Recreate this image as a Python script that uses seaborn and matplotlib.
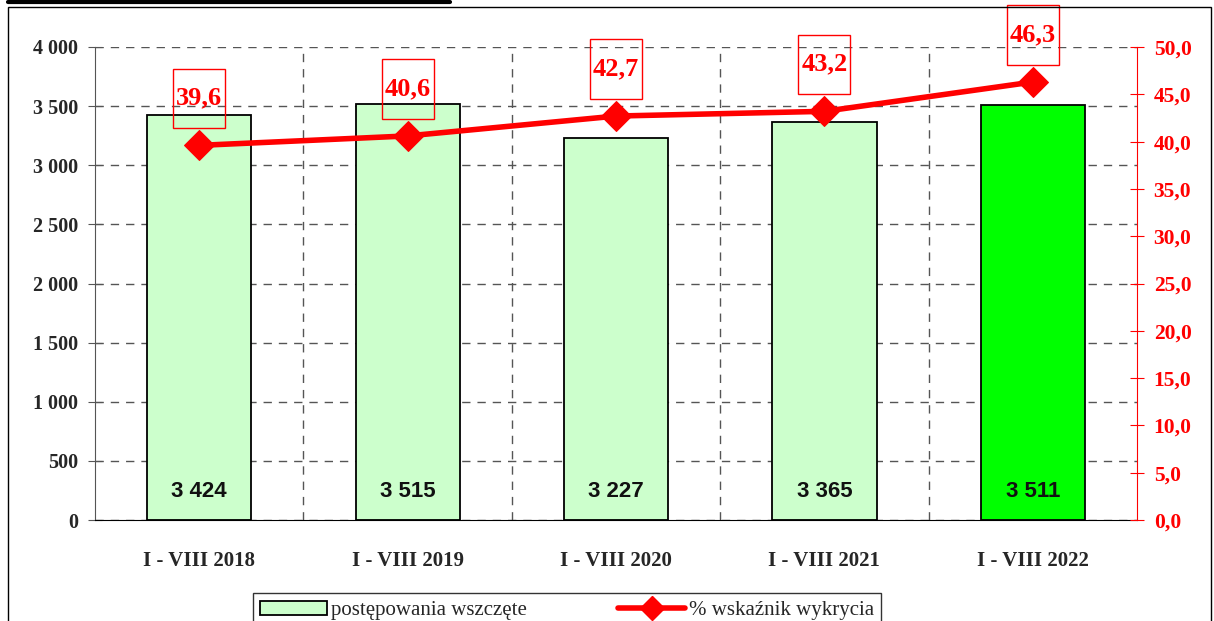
import matplotlib
matplotlib.use('Agg')
import matplotlib.pyplot as plt
from matplotlib.patches import Patch, Rectangle
from matplotlib.lines import Line2D
import numpy as np
import seaborn as sns

# dane
periods = ['I - VIII 2018', 'I - VIII 2019', 'I - VIII 2020', 'I - VIII 2021', 'I - VIII 2022']
cases = [3424, 3515, 3227, 3365, 3511]
detection = [39.6, 40.6, 42.7, 43.2, 46.3]
bar_colors = ['#CCFFCC', '#CCFFCC', '#CCFFCC', '#CCFFCC', '#00FF00']

sns.set_style('white')
plt.rcParams['font.family'] = ['Liberation Serif', 'DejaVu Serif']

fig = plt.figure(figsize=(12.14, 6.21), dpi=100)
ax = fig.add_axes([95/1214, 1-520/621, (1137-95)/1214, (520-47)/621])

sns.barplot(x=periods, y=cases, hue=periods, palette=bar_colors, width=0.5,
            edgecolor='black', linewidth=1.3, legend=False, ax=ax, saturation=1)

ax.set_xlim(-0.5, 4.5)
ax.set_ylim(0, 4000)
ax.set_yticks(np.arange(0, 4001, 500))
ax.set_yticklabels([f'{v:,}'.replace(',', ' ') for v in range(0, 4001, 500)],
                   fontsize=14.5, fontweight='bold')
ax.set_xticks(range(len(periods)))
ax.set_xticklabels(periods, fontsize=15, fontweight='bold')
ax.set_xticks([0.5, 1.5, 2.5, 3.5], minor=True)
ax.tick_params(axis='x', which='major', length=0, pad=22)
ax.tick_params(axis='x', which='minor', length=10, direction='inout', color='#555555')
ax.tick_params(axis='y', direction='inout', length=10, color='#555555', pad=7)
ax.set_xlabel('')
ax.set_ylabel('')
ax.set_axisbelow(True)
ax.grid(axis='y', which='major', ls=(0, (6, 5)), color='#555555', lw=1)
ax.grid(axis='x', which='minor', ls=(0, (6, 5)), color='#555555', lw=1)
ax.grid(axis='x', which='major', visible=False)
for s in ['top', 'right']:
    ax.spines[s].set_visible(False)
ax.spines['left'].set_color('#555555')
ax.spines['bottom'].set_color('black')

for i, v in enumerate(cases):
    ax.text(i, 237, f'{v:,}'.replace(',', ' '), ha='center', va='center',
            fontsize=16, fontweight='bold', family='Liberation Sans', color='#111111')

ax2 = ax.twinx()
sns.lineplot(x=np.arange(len(periods)), y=detection, color='red', lw=4,
             marker='D', markersize=15, markeredgecolor='red', ax=ax2, sort=False)
ax2.set_ylim(0, 50)
ax2.set_yticks(np.arange(0, 51, 5))
ax2.set_yticklabels([f'{v:.1f}'.replace('.', ',') for v in np.arange(0, 51, 5)],
                    fontsize=15.5, fontweight='bold', color='red')
ax2.tick_params(axis='y', direction='inout', length=10, color='red', pad=7)
ax2.set_ylabel('')
for s in ['top', 'left', 'bottom']:
    ax2.spines[s].set_visible(False)
ax2.spines['right'].set_color('red')

for i, r in enumerate(detection):
    ax2.add_patch(Rectangle((i - 0.125, r + 1.8), 0.25, 6.3, fill=False,
                            ec='red', lw=1, clip_on=False))
    ax2.text(i, r + 5.0, f'{r:.1f}'.replace('.', ','), ha='center', va='center',
             fontsize=19, fontweight='bold', color='red', clip_on=False)

handles = [Patch(facecolor='#CCFFCC', edgecolor='black', lw=1.3),
           Line2D([0], [0], color='red', lw=4, marker='D', markersize=12)]
leg = fig.legend(handles, ['postępowania wszczęte', '% wskaźnik wykrycia'],
                 loc='upper center', bbox_to_anchor=(567/1214, 1-583/621), ncol=2,
                 fontsize=15, frameon=True, fancybox=False, edgecolor='black',
                 handlelength=3.2, columnspacing=4.4, borderpad=0.35, handletextpad=0.2)
leg.get_frame().set_linewidth(1)

# ramka i linia nad wykresem
fig.add_artist(Rectangle((8/1214, -0.02), (1211-8)/1214, 1-7/621+0.02, fill=False,
                         ec='black', lw=1, transform=fig.transFigure))
fig.add_artist(Line2D([8/1214, 450/1214], [1-2/621, 1-2/621], color='black', lw=3,
                      transform=fig.transFigure))

fig.savefig('out.png', dpi=100)
